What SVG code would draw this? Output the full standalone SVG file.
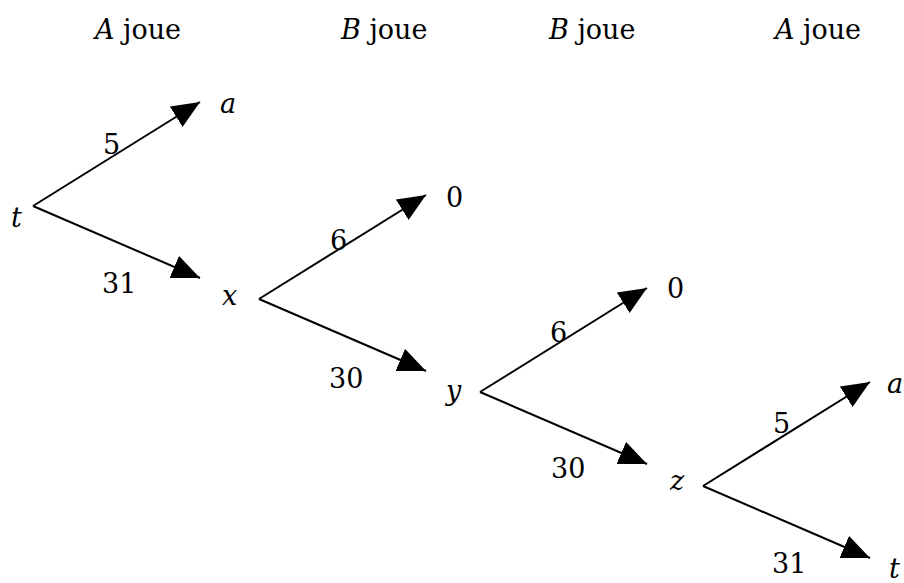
<svg xmlns="http://www.w3.org/2000/svg" width="904" height="583" viewBox="0 0 904 583">
<defs>
<marker id="ah" markerUnits="userSpaceOnUse" markerWidth="28" markerHeight="24" refX="28" refY="12" orient="auto" viewBox="0 0 28 24">
<path d="M0,0 L28,12 L0,24 Z" fill="#000"/>
</marker>
<style>
.t{font-family:'DejaVu Serif',serif;font-size:27px;fill:#000}
.i{font-style:italic}
.e{stroke:#000;stroke-width:2;fill:none;marker-end:url(#ah)}
</style>
</defs>
<rect width="904" height="583" fill="#fff"/>
<g class="t">
<g id="headers">
<text x="95" y="39"><tspan class="i">A</tspan> joue</text>
<text x="341" y="39"><tspan class="i">B</tspan> joue</text>
<text x="549" y="39"><tspan class="i">B</tspan> joue</text>
<text x="775" y="39"><tspan class="i">A</tspan> joue</text>
</g>
<g id="edge-labels">
<text x="103" y="154">5</text>
<text x="102" y="293">31</text>
<text x="330" y="250">6</text>
<text x="329" y="388">30</text>
<text x="550" y="342">6</text>
<text x="551" y="478">30</text>
<text x="773" y="433">5</text>
<text x="772" y="573">31</text>
</g>
<g id="node-t"><text class="i" x="11" y="227">t</text></g>
<g id="node-a1"><text class="i" x="220" y="113">a</text></g>
<g id="node-x"><text class="i" x="222" y="305">x</text></g>
<g id="node-0a"><text x="446" y="207">0</text></g>
<g id="node-y"><text class="i" x="446" y="400">y</text></g>
<g id="node-0b"><text x="667" y="298">0</text></g>
<g id="node-z"><text class="i" x="670" y="490">z</text></g>
<g id="node-a2"><text class="i" x="887" y="393">a</text></g>
<g id="node-t2"><text class="i" x="889" y="578">t</text></g>
</g>
<g id="connectors">
<line class="e" x1="33" y1="206" x2="200" y2="102"/>
<line class="e" x1="33" y1="206" x2="200" y2="278"/>
<line class="e" x1="259" y1="299" x2="426" y2="195"/>
<line class="e" x1="259" y1="299" x2="426" y2="371"/>
<line class="e" x1="480" y1="392" x2="647" y2="288"/>
<line class="e" x1="480" y1="392" x2="647" y2="464"/>
<line class="e" x1="703" y1="486" x2="870" y2="382"/>
<line class="e" x1="703" y1="486" x2="870" y2="558"/>
</g>
</svg>
